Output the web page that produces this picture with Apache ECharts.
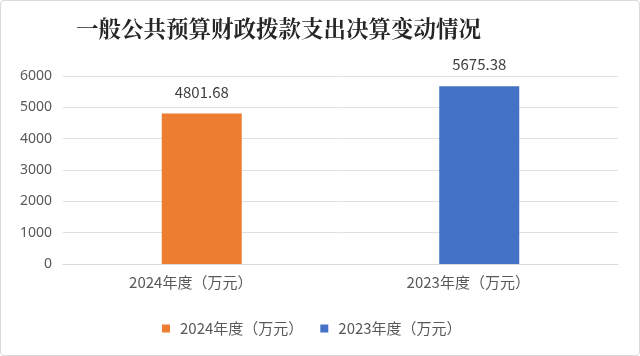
<!DOCTYPE html>
<html><head><meta charset="utf-8">
<script src="https://cdn.jsdelivr.net/npm/echarts@6/dist/echarts.min.js"></script>
<style>html,body{margin:0;padding:0;background:#fff}#c{width:640px;height:356px;box-sizing:border-box;border:1px solid #d9d9d9;border-radius:4px}</style>
</head><body><div id="c"></div>
<script>
const categories = ['2024年度（万元）', '2023年度（万元）'];
const seriesNames = ['2024年度（万元）', '2023年度（万元）'];
const values2024 = [4801.68, '-'];
const values2023 = ['-', 5675.38];
const yTicks = [0, 1000, 2000, 3000, 4000, 5000, 6000];

const chart = echarts.init(document.getElementById('c'));
const labelFont = {fontFamily: 'Noto Sans CJK SC, sans-serif', fontSize: 15, color: '#404040'};
chart.setOption({
  animation: false,
  title: {
    text: '一般公共预算财政拨款支出决算变动情况',
    left: 70, top: 11,
    textStyle: {fontFamily: 'Noto Serif CJK SC, Noto Sans CJK SC, serif', fontWeight: 'bold', fontSize: 22.5, color: '#262626'}
  },
  legend: {
    bottom: 14, left: 156,
    itemWidth: 8, itemHeight: 8, itemGap: 17,
    icon: 'rect',
    textStyle: {fontFamily: 'Noto Sans CJK SC, sans-serif', fontSize: 15, color: '#595959', padding: [0, 0, 0, 5]},
    data: seriesNames
  },
  grid: {left: 62, right: 21, top: 75, bottom: 91, containLabel: false},
  xAxis: {
    type: 'category', data: categories,
    axisLine: {lineStyle: {color: '#d9d9d9'}},
    axisTick: {show: false},
    axisLabel: {fontFamily: 'Noto Sans CJK SC, sans-serif', fontSize: 15, color: '#595959', margin: 11,
      padding: [0, 22, 0, 0]}
  },
  yAxis: {
    type: 'value', min: yTicks[0], max: yTicks[yTicks.length - 1], interval: 1000,
    axisLine: {show: false}, axisTick: {show: false},
    splitLine: {lineStyle: {color: '#e0e0e0'}},
    axisLabel: {fontFamily: 'Noto Sans, sans-serif', fontSize: 14, color: '#595959', margin: 11,
      formatter: v => String(v)}
  },
  series: [
    {name: seriesNames[0], type: 'bar', stack: 'a', data: values2024, barWidth: 80,
     itemStyle: {color: '#ED7D31'},
     label: {show: true, position: 'top', distance: 14, formatter: p => p.value.toFixed(2), ...labelFont}},
    {name: seriesNames[1], type: 'bar', stack: 'a', data: values2023, barWidth: 80,
     itemStyle: {color: '#4472C4'},
     label: {show: true, position: 'top', distance: 14, formatter: p => p.value.toFixed(2), ...labelFont}}
  ]
});
</script></body></html>
